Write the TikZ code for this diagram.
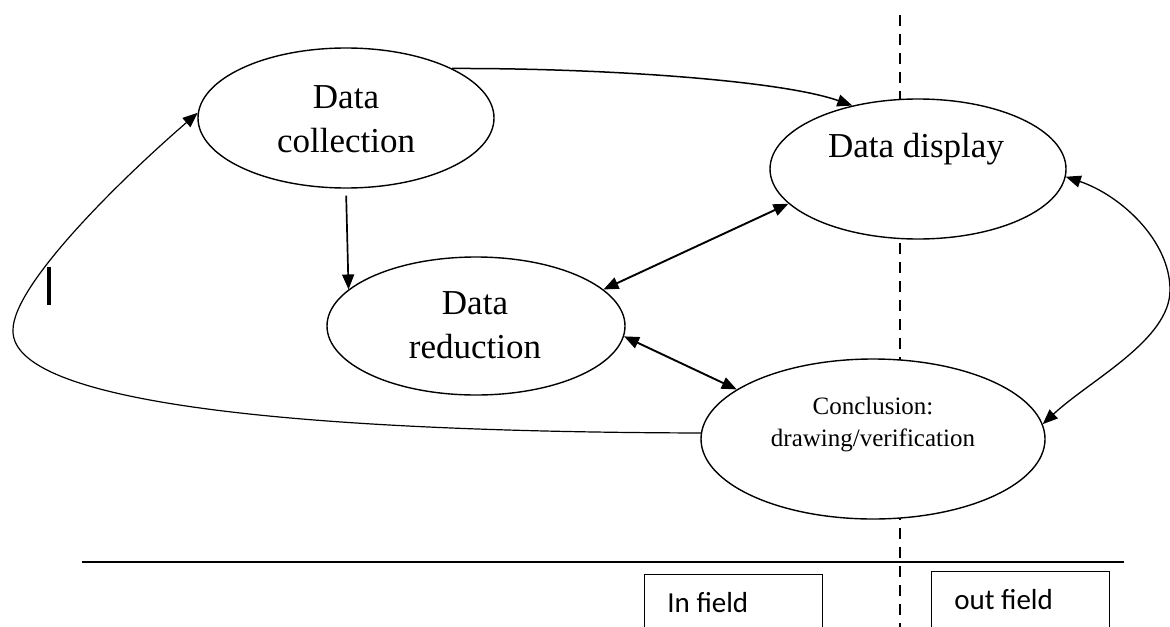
\documentclass[tikz,border=0pt]{standalone}
\usepackage{fontspec}
\setmainfont{Liberation Serif}
\newfontfamily\boxfont{Carlito}
\usetikzlibrary{arrows.meta,shapes.geometric}
\begin{document}
\begin{tikzpicture}[x=0.5pt,y=-0.5pt,
  stage/.style={draw, ellipse, fill=white, line width=0.7pt, inner sep=0pt},
  big/.style={font=\fontsize{17.5}{22}\selectfont, align=center, inner sep=0pt},
  small/.style={font=\fontsize{12.5}{16}\selectfont, align=center, inner sep=0pt},
  tip/.tip={Triangle[length=7.5pt,width=6pt]},
  conn/.style={line width=0.75pt, -tip},
  dconn/.style={line width=0.95pt, tip-tip},
  fieldbox/.style={draw, line width=0.6pt, anchor=north west, minimum width=89pt, minimum height=40pt, inner sep=0pt},
  fieldtext/.style={font=\boxfont\fontsize{14.5}{17}\selectfont, anchor=west, inner sep=0pt},
  divider/.style={line width=1pt, dash pattern=on 5.5pt off 4pt}
]
\useasboundingbox (0,0) rectangle (1170,626);
\clip (0,0) rectangle (1170,626);

% vertical dashed divider
\coordinate (dtop) at (900,15);
\coordinate (dbot) at (900,640);
\draw[divider] (dtop) -- (dbot);

% stages
\node[stage, minimum width=148pt, minimum height=70pt] (dc) at (346,118) {};
\node[big] (dct) at (346,119) {Data\\collection};
\node[stage, minimum width=148pt, minimum height=70pt] (dd) at (918,169) {};
\node[big] (ddt) at (916,149) {Data display};
\node[stage, minimum width=149pt, minimum height=69pt] (dr) at (476,326) {};
\node[big] (drt) at (475,325) {Data\\reduction};
\node[stage, minimum width=172pt, minimum height=80pt] (cv) at (873,439) {};
\node[small] (cvt) at (873,425) {Conclusion:\\drawing/verification};

% connectors
\draw[conn] (dc.25) .. controls (600,68) and (780,80) .. (dd.136);
\draw[conn, line width=0.85pt, shorten <=3.5pt] (dc.south) -- (dr.164);
\draw[dconn] (dr.16) -- (dd.195);
\draw[dconn] (dr.-4) -- (cv.160);
\coordinate (rbend) at (1170,290);
\draw[conn, tip-tip, line width=0.65pt] (dd.-3) .. controls (1120,195) and (1170,240) .. (rbend)
  .. controls (1170,340) and (1090,380) .. (cv.5);
\coordinate (lbend) at (13,330);
\draw[conn, line width=0.6pt] (cv.178) .. controls (350,432) and (10,410) .. (lbend)
  .. controls (13,285) and (120,180) .. (dc.178);

% stray bar
\draw[line width=2pt] (49,267) -- (49,305);

% baseline
\coordinate (hl) at (82,562);
\coordinate (hr) at (1124,562);
\draw[line width=0.65pt] (hl) -- (hr);

% field boxes
\node[fieldbox] (inbox) at (644,574) {};
\node[fieldtext] (intext) at (667,603) {In field};
\node[fieldbox] (outbox) at (931,571) {};
\node[fieldtext] (outtext) at (954,600) {out field};
\end{tikzpicture}
\end{document}
